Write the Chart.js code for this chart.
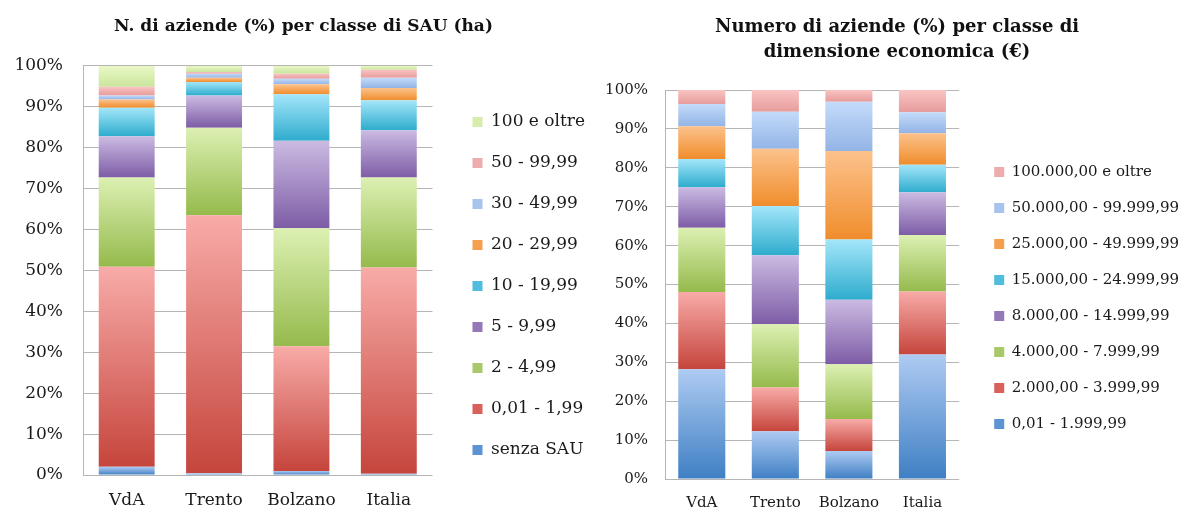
<!DOCTYPE html>
<html>
<head>
<meta charset="utf-8">
<script src="https://cdn.jsdelivr.net/npm/chart.js@4"></script>
<style>
  html, body { margin: 0; padding: 0; background: #fff; }
  body { width: 1182px; height: 511px; position: relative; overflow: hidden; }
  .box { position: absolute; top: 0; height: 511px; }
  #left { left: 12px; width: 583px; }
  #right { left: 605px; width: 584px; }
</style>
</head>
<body>
<div class="box" id="left"><canvas id="sauChart"></canvas></div>
<div class="box" id="right"><canvas id="udeChart"></canvas></div>
<script>
// --- DATA ---
const regions = ['VdA', 'Trento', 'Bolzano', 'Italia'];

// N. di aziende (%) per classe di SAU (ha)
const sauLabels = ['senza SAU', '0,01 - 1,99', '2 - 4,99', '5 - 9,99', '10 - 19,99',
                   '20 - 29,99', '30 - 49,99', '50 - 99,99', '100 e oltre'];
const sauSenza = [2.0, 0.4, 1.0, 0.3];
const sau0 = [48.9, 63.1, 30.5, 50.4];
const sau2 = [21.8, 21.4, 28.8, 22.0];
const sau5 = [10.1, 7.9, 21.4, 11.6];
const sau10 = [7.0, 3.3, 11.4, 7.3];
const sau20 = [2.0, 1.0, 2.4, 3.0];
const sau30 = [1.0, 1.0, 1.4, 2.5];
const sau50 = [2.1, 0.4, 1.2, 2.0];
const sau100 = [5.1, 1.5, 1.9, 0.9];

// Numero di aziende (%) per classe di dimensione economica (€)
const udeLabels = ['0,01 - 1.999,99', '2.000,00 - 3.999,99', '4.000,00 - 7.999,99',
                   '8.000,00 - 14.999,99', '15.000,00 - 24.999,99', '25.000,00 - 49.999,99',
                   '50.000,00 - 99.999,99', '100.000,00 e oltre'];
const ude0 = [28.2, 12.3, 7.2, 32.0];
const ude2 = [19.9, 11.2, 8.2, 16.2];
const ude4 = [16.5, 16.3, 14.1, 14.5];
const ude8 = [10.4, 17.7, 16.6, 11.0];
const ude15 = [7.3, 12.7, 15.5, 7.1];
const ude25 = [8.4, 14.7, 22.7, 8.1];
const ude50 = [5.7, 9.5, 12.7, 5.4];
const ude100 = [3.6, 5.6, 3.0, 5.7];

// --- COLOURS (top, bottom, legend) ---
const pal = {
    blue:   ['#aecbf2', '#3f7fc4', '#5b93d3'],
    red:    ['#f8aba8', '#c5453c', '#d8625b'],
    green:  ['#dcf0b2', '#95ba4c', '#a9c86a'],
    purple: ['#cbbbe2', '#7d5ca6', '#9478b8'],
    cyan:   ['#a4e6fa', '#2eaccd', '#4fbddb'],
    orange: ['#fcc28c', '#f08d2c', '#f5a050'],
    sky:    ['#c4dbfa', '#93b4e6', '#a8c4ee'],
    pink:   ['#f9c4c3', '#e69c9b', '#eeadac'],
    lime:   ['#eaf8c6', '#c9e59c', '#d6edae']
};

// vertical gradient per segment, lighter on top
function segmentFill(colors) {
    return function(ctx) {
        const chart = ctx.chart;
        if (ctx.type !== 'data' || !chart.chartArea) return colors[2];
        const sets = chart.data.datasets;
        let base = 0;
        for (let i = 0; i < ctx.datasetIndex; i++) base += sets[i].data[ctx.dataIndex];
        const top = base + sets[ctx.datasetIndex].data[ctx.dataIndex];
        const y = chart.scales.y;
        const y0 = y.getPixelForValue(top), y1 = y.getPixelForValue(base);
        if (!isFinite(y0) || !isFinite(y1) || y1 - y0 < 1) return colors[2];
        const g = chart.ctx.createLinearGradient(0, y0, 0, y1);
        g.addColorStop(0, colors[0]);
        g.addColorStop(1, colors[1]);
        return g;
    };
}

function makeSets(labels, series, colors) {
    return series.map((data, i) => ({
        label: labels[i],
        data: data,
        legendColor: colors[i][2],
        backgroundColor: segmentFill(colors[i]),
        borderWidth: 0,
        barPercentage: 0.64,
        categoryPercentage: 1
    }));
}

// flat swatch colours in the legend
function legendItems(chart) {
    return Chart.defaults.plugins.legend.labels.generateLabels(chart).map(item => {
        item.fillStyle = chart.data.datasets[item.datasetIndex].legendColor;
        return item;
    });
}

// cfg: fontSize, tickPad, yWidth, xHeight, gap, legendPad, legendShift, title
function baseOptions(titleLines, cfg) {
    const font = { family: 'DejaVu Serif', size: cfg.fontSize };
    return {
        responsive: true,
        maintainAspectRatio: false,
        animation: false,
        layout: { padding: 0 },
        scales: {
            x: {
                stacked: true,
                grid: { display: false, drawTicks: false },
                border: { display: false },
                ticks: { color: '#1a1a1a', font: font, padding: 15 },
                afterFit: s => { s.height = cfg.xHeight; }
            },
            y: {
                stacked: true,
                min: 0,
                max: 100,
                grid: { color: '#b5b5b5', drawTicks: false },
                border: { display: true, color: '#b5b5b5' },
                ticks: {
                    stepSize: 10,
                    color: '#1a1a1a',
                    font: font,
                    padding: cfg.tickPad,
                    callback: v => v + '%'
                },
                afterFit: s => { s.width = cfg.yWidth; }
            },
            // empty spacer between plot and legend
            gap: {
                type: 'linear',
                axis: 'y',
                position: 'right',
                grid: { display: false },
                border: { display: false },
                ticks: { display: false },
                afterFit: s => { s.width = cfg.gap; }
            }
        },
        plugins: {
            title: {
                display: true,
                text: titleLines,
                color: '#111',
                font: { family: 'DejaVu Serif', size: cfg.title.size, weight: 'bold', lineHeight: cfg.title.lh },
                padding: cfg.title.pad
            },
            legend: {
                position: 'right',
                reverse: true,
                maxWidth: 260,
                title: { display: true, text: '', padding: { top: cfg.legendShift, bottom: 0 } },
                labels: {
                    color: '#1a1a1a',
                    font: font,
                    boxWidth: 10,
                    boxHeight: 10,
                    padding: cfg.legendPad,
                    generateLabels: legendItems
                }
            },
            tooltip: { enabled: false }
        }
    };
}

// 1. SAU chart
new Chart(document.getElementById('sauChart'), {
    type: 'bar',
    data: {
        labels: regions,
        datasets: makeSets(sauLabels,
            [sauSenza, sau0, sau2, sau5, sau10, sau20, sau30, sau50, sau100],
            [pal.blue, pal.red, pal.green, pal.purple, pal.cyan, pal.orange, pal.sky, pal.pink, pal.lime])
    },
    options: baseOptions('N. di aziende (%) per classe di SAU (ha)', {
        fontSize: 17, tickPad: 20, yWidth: 71, xHeight: 36, gap: 16,
        legendPad: 24, legendShift: 46.6,
        title: { size: 17, lh: 1.35, pad: { top: 15.5, bottom: 27.5 } }
    })
});

// 2. Dimensione economica chart
new Chart(document.getElementById('udeChart'), {
    type: 'bar',
    data: {
        labels: regions,
        datasets: makeSets(udeLabels,
            [ude0, ude2, ude4, ude8, ude15, ude25, ude50, ude100],
            [pal.blue, pal.red, pal.green, pal.purple, pal.cyan, pal.orange, pal.sky, pal.pink])
    },
    options: baseOptions(['Numero di aziende (%) per classe di', 'dimensione economica (€)'], {
        fontSize: 15, tickPad: 17, yWidth: 60, xHeight: 32, gap: 14,
        legendPad: 21, legendShift: 70.6,
        title: { size: 18, lh: 1.39, pad: { top: 14.5, bottom: 25.5 } }
    })
});
</script>
</body>
</html>
